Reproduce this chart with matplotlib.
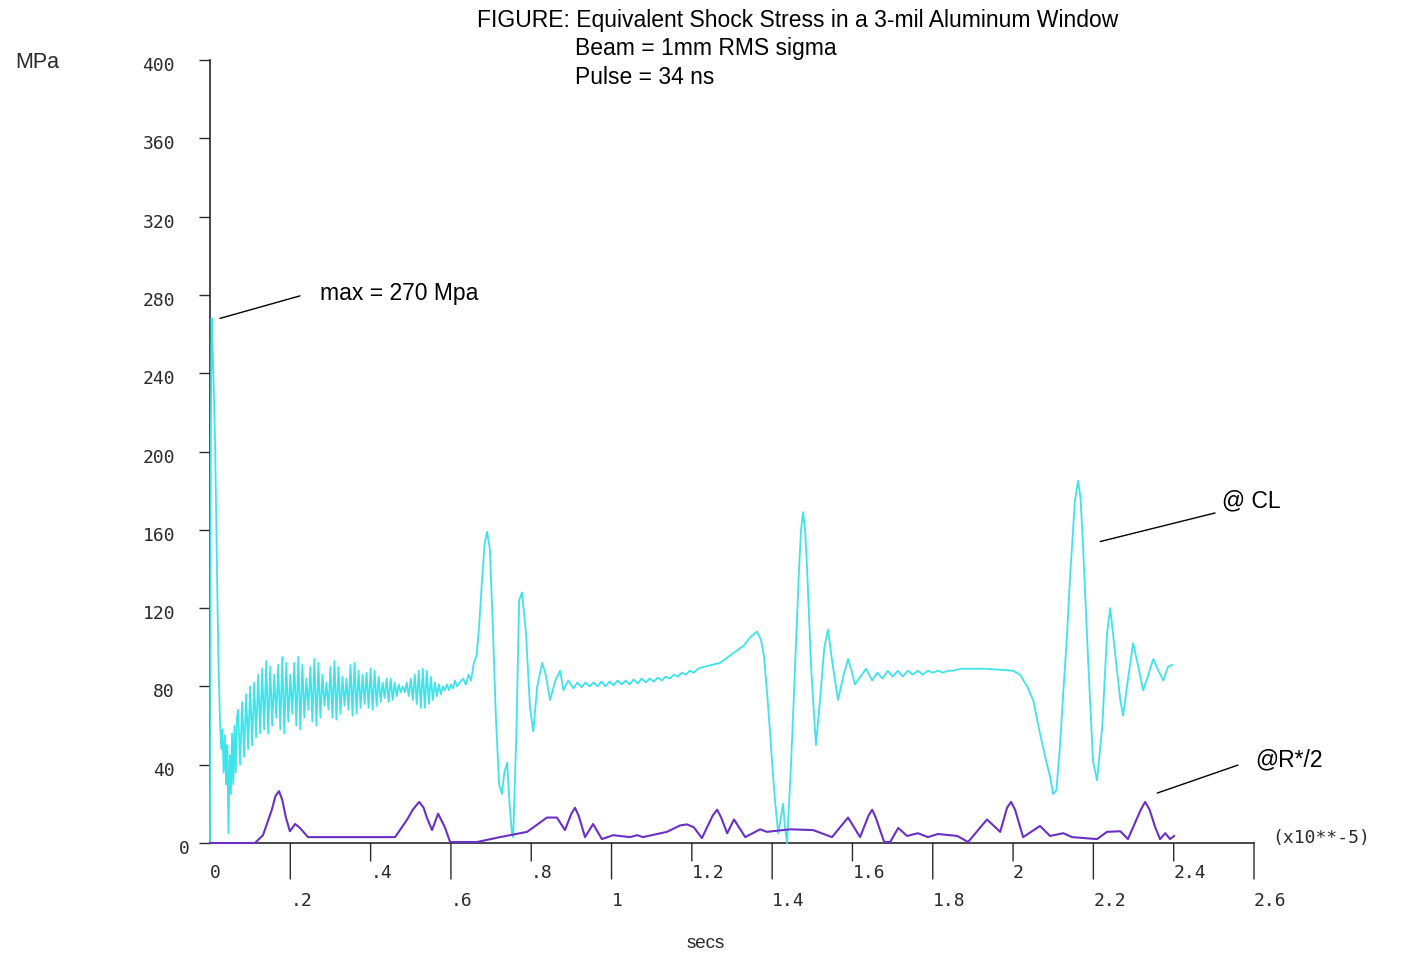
import matplotlib
matplotlib.use("Agg")
import matplotlib.pyplot as plt

# stress at the centre line (MPa) vs time (x 1e-5 s)
CL_T = [
    0.000, 0.002, 0.004, 0.007, 0.010, 0.013, 0.016, 0.019, 0.022, 0.025,
    0.028, 0.031, 0.034, 0.037, 0.040, 0.043, 0.046, 0.049, 0.052, 0.055,
    0.058, 0.061, 0.064, 0.067,
    0.070, 0.075, 0.080, 0.085, 0.090, 0.095, 0.100, 0.105, 0.110, 0.115,
    0.120, 0.125, 0.130, 0.135, 0.140, 0.145, 0.150, 0.155, 0.160, 0.165,
    0.170, 0.175, 0.180, 0.185, 0.190, 0.195, 0.200, 0.205, 0.210, 0.215,
    0.220, 0.225, 0.230, 0.235, 0.240, 0.245, 0.250, 0.255, 0.260, 0.265,
    0.270, 0.275, 0.280, 0.285, 0.290, 0.295, 0.300, 0.305, 0.310, 0.315,
    0.320, 0.325, 0.330, 0.335, 0.340, 0.345, 0.350, 0.355, 0.360, 0.365,
    0.370, 0.375, 0.380, 0.385, 0.390, 0.395, 0.400, 0.405, 0.410, 0.415,
    0.420, 0.425, 0.430, 0.435, 0.440, 0.445, 0.450, 0.455, 0.460, 0.465,
    0.470, 0.475, 0.480, 0.485, 0.490, 0.495, 0.500, 0.505, 0.510, 0.515,
    0.520, 0.525, 0.530, 0.535, 0.540, 0.545, 0.550, 0.555, 0.560, 0.565,
    0.570, 0.575, 0.580, 0.585, 0.590, 0.595, 0.600, 0.605, 0.610, 0.615,
    0.622, 0.630, 0.637, 0.644, 0.650, 0.657, 0.664, 0.670, 0.677, 0.684,
    0.690, 0.697, 0.705, 0.712, 0.720, 0.727, 0.733, 0.740, 0.746, 0.752,
    0.755, 0.763, 0.770, 0.777, 0.787, 0.797, 0.805, 0.815, 0.827, 0.835,
    0.847, 0.860, 0.872, 0.880, 0.892,
    0.905, 0.915, 0.925, 0.935, 0.945, 0.955, 0.965, 0.975, 0.985, 0.995,
    1.005, 1.015, 1.025, 1.035, 1.045, 1.055, 1.065, 1.075, 1.085, 1.095,
    1.105, 1.115, 1.125, 1.135, 1.145, 1.155, 1.165, 1.175, 1.185, 1.195,
    1.205, 1.215, 1.230, 1.250, 1.270, 1.290, 1.310, 1.330, 1.345, 1.362,
    1.372, 1.380, 1.388, 1.395, 1.402, 1.407, 1.415, 1.421, 1.427, 1.432,
    1.437, 1.447, 1.457, 1.467, 1.472, 1.477, 1.482, 1.487, 1.497, 1.509,
    1.520, 1.530, 1.539, 1.550, 1.564, 1.577, 1.589, 1.598, 1.606, 1.620,
    1.634, 1.649,
    1.662, 1.675, 1.688, 1.700, 1.713, 1.725, 1.738, 1.750, 1.763, 1.775,
    1.788, 1.800, 1.813, 1.825, 1.838, 1.850, 1.870, 1.900, 1.930, 1.968,
    2.000, 2.017, 2.035, 2.050, 2.067, 2.080, 2.092, 2.100, 2.108, 2.117,
    2.125, 2.134, 2.142, 2.154, 2.162, 2.168, 2.174, 2.187, 2.199, 2.209,
    2.222, 2.234, 2.242, 2.254, 2.267, 2.274, 2.287, 2.299, 2.312, 2.324,
    2.337, 2.349, 2.362, 2.374, 2.386, 2.396,
]
CL_V = [
    0, 205, 268, 250, 228, 200, 160, 118, 85, 62,
    48, 58, 36, 55, 30, 50, 5, 45, 25, 56,
    30, 60, 36, 64,
    68, 40, 72, 44, 76, 48, 80, 50, 82, 54,
    86, 56, 89, 58, 93, 56, 90, 60, 86, 64,
    91, 58, 95, 56, 92, 62, 86, 66, 92, 60,
    95, 58, 91, 64, 84, 68, 90, 62, 94, 60,
    92, 64, 86, 70, 82, 68, 90, 64, 93, 63,
    90, 66, 85, 70, 84, 68, 91, 65, 92, 66,
    88, 69, 86, 71, 87, 69, 89, 68, 88, 70,
    85, 72, 82, 74, 84, 72, 84, 73, 82, 75,
    81, 77, 80, 77, 82, 75, 84, 73, 86, 71,
    88, 69, 89, 69, 88, 71, 85, 73, 82, 75,
    81, 76, 80, 78, 81, 78, 81, 79, 83, 80,
    82, 84, 81, 86, 83, 92, 96, 110, 133, 153,
    159, 150, 107, 64, 30, 25, 36, 41, 20, 5,
    3, 56, 124, 128, 107, 69, 57, 80, 92, 87,
    73, 83, 88, 78, 83,
    79, 82, 79.5, 82, 80, 82, 80, 82.5, 80, 82.5,
    80.5, 83, 81, 83, 81, 83.5, 81.5, 84, 82, 84,
    82.5, 84.5, 83, 85, 84, 86, 85, 87, 86, 88,
    87, 89, 90, 91, 92, 95, 98, 101, 105, 108,
    104, 95, 75, 56, 35, 22, 5, 12, 20, 8,
    0, 40, 90, 140, 160, 169, 160, 140, 90, 50,
    75, 100, 109, 92, 73, 85, 94, 88, 81, 85,
    89, 83,
    87, 84, 88, 85, 88, 85, 88, 86, 88, 86,
    88, 87, 88, 87, 88, 88, 89, 89, 89, 88.5,
    88, 86, 80, 73, 56, 44, 34, 25, 27, 50,
    77, 105, 136, 175, 185, 176, 153, 93, 42, 32,
    59, 107, 120, 97, 73, 65, 85, 102, 90, 78,
    86, 94, 88, 83, 90, 91,
]

# stress at R*/2 (MPa)
R2_T = [
    0.000, 0.112, 0.132, 0.154, 0.163, 0.172, 0.180, 0.189, 0.199, 0.212, 0.224, 0.244,
    0.461, 0.491, 0.505, 0.521, 0.532, 0.540, 0.553, 0.568, 0.585, 0.598, 0.665, 0.722,
    0.790, 0.839, 0.864, 0.884, 0.900, 0.909, 0.918, 0.934, 0.954, 0.976, 1.004, 1.046,
    1.064, 1.078, 1.138, 1.171, 1.188, 1.205, 1.225, 1.252, 1.263, 1.273, 1.288, 1.305,
    1.333, 1.370, 1.387, 1.445, 1.502, 1.549, 1.589, 1.619, 1.640, 1.649, 1.658, 1.679,
    1.694, 1.714, 1.736, 1.763, 1.788, 1.813, 1.861, 1.888, 1.935, 1.968,
    1.985, 1.995, 2.005, 2.025, 2.067, 2.092, 2.125, 2.147, 2.209, 2.234, 2.267, 2.286,
    2.318, 2.329, 2.340, 2.354, 2.366, 2.379, 2.391, 2.401,
]
R2_V = [
    0, 0, 4, 17, 24, 26.5, 22, 13, 6, 9.7, 7.7, 3,
    3, 12, 17, 21, 18, 13, 6.6, 15, 8, 0.5, 0.5, 3,
    5.7, 13, 13, 6.6, 15, 18, 14, 3, 9.7, 2, 4, 3,
    4, 3, 5.7, 9, 9.5, 8, 2.5, 14, 17, 13, 5, 12,
    3, 7, 5.7, 7, 6.6, 3, 13, 3, 14, 17, 13, 0.5,
    0.5, 7.7, 3.6, 5, 3, 4.6, 3.6, 0.5, 12, 5.7,
    18, 21, 17, 3, 8.7, 3.6, 5, 3, 2, 5.7, 6, 2,
    17, 21, 17, 8, 2, 5, 2, 3.6,
]

Y_TICKS = [0, 40, 80, 120, 160, 200, 240, 280, 320, 360, 400]
X_TICKS = [0, 0.2, 0.4, 0.6, 0.8, 1.0, 1.2, 1.4, 1.6, 1.8, 2.0, 2.2, 2.4, 2.6]
X_LABELS = ["0", ".2", ".4", ".6", ".8", "1", "1.2", "1.4", "1.6", "1.8",
            "2", "2.2", "2.4", "2.6"]

CYAN = "#3ee4ea"
PURPLE = "#6a30c6"
INK = "#2a2a2a"
NARROW = ["Liberation Sans Narrow", "Liberation Sans", "DejaVu Sans"]
MONO = ["DejaVu Sans Mono"]

W, H = 1414, 956
fig = plt.figure(figsize=(W / 100, H / 100), dpi=100)
ax = fig.add_axes([210 / W, 1 - 843 / H, (1254 - 210) / W, (843 - 60) / H])
ax.set_xlim(0, 2.6)
ax.set_ylim(0, 400)
for s in ("top", "right"):
    ax.spines[s].set_visible(False)
for s in ("left", "bottom"):
    ax.spines[s].set_linewidth(1.2)
    ax.spines[s].set_color(INK)

ax.plot(CL_T, CL_V, color=CYAN, lw=1.3, clip_on=False, zorder=3)
ax.plot(R2_T, R2_V, color=PURPLE, lw=1.5, clip_on=False, zorder=4)

# y ticks point left, labels drawn by hand so they sit a bit low
ax.set_yticks(Y_TICKS, labels=[])
ax.tick_params(axis="y", direction="out", length=8, width=1, color=INK)
for v in Y_TICKS:
    dx = -20 if v == 0 else -35
    ax.annotate(str(v), xy=(0, v), xycoords=("axes fraction", "data"),
                xytext=(dx, -6), textcoords="offset pixels",
                ha="right", va="center", fontsize=13, family=MONO, color=INK)

# x ticks alternate short / long with labels on two rows
ax.set_xticks([])
for i, (t, lab) in enumerate(zip(X_TICKS, X_LABELS)):
    lower = i % 2 == 1
    if i > 0:
        ln = 36 if lower else 18
        ax.annotate("", xy=(t, 0), xycoords=("data", "axes fraction"),
                    xytext=(0, -ln), textcoords="offset pixels",
                    arrowprops=dict(arrowstyle="-", lw=1, color=INK,
                                    shrinkA=0, shrinkB=0))
    ax.annotate(lab, xy=(t, 0), xycoords=("data", "axes fraction"),
                xytext=(0, -58 if lower else -30), textcoords="offset pixels",
                ha="left", va="center", fontsize=13, family=MONO, color=INK)

# leader lines and notes
line_kw = dict(arrowstyle="-", lw=1, color="black", shrinkA=0, shrinkB=0)
ax.annotate("", xy=(0.025, 268), xytext=(0.224, 279.5), arrowprops=line_kw)
ax.text(0.274, 280.5, "max = 270 Mpa", fontsize=16.5, family=NARROW,
        va="center", ha="left")
ax.annotate("", xy=(2.217, 154), xytext=(2.503, 168.6), arrowprops=line_kw)
ax.text(2.52, 175, "@ CL", fontsize=16.5, family=NARROW, va="center",
        ha="left", clip_on=False)
ax.annotate("", xy=(2.359, 25.5), xytext=(2.560, 39.8), arrowprops=line_kw,
            annotation_clip=False)
ax.text(2.603, 42.4, "@R*/2", fontsize=16.5, family=NARROW, va="center",
        ha="left", clip_on=False)

fig.text(477 / W, 1 - 21 / H,
         "FIGURE: Equivalent Shock Stress in a 3-mil Aluminum Window",
         fontsize=16.5, family=NARROW, va="center", ha="left")
fig.text(575 / W, 1 - 49 / H, "Beam = 1mm RMS sigma", fontsize=16.5,
         family=NARROW, va="center", ha="left")
fig.text(575 / W, 1 - 78 / H, "Pulse = 34 ns", fontsize=16.5,
         family=NARROW, va="center", ha="left")
fig.text(15 / W, 1 - 63 / H, "MPa", fontsize=15.5, family=NARROW,
         va="center", ha="left", color=INK)
fig.text(706 / W, 1 - 943 / H, "secs", fontsize=13.5, family=NARROW,
         va="center", ha="center", color=INK)
fig.text(1272 / W, 1 - 838 / H, "(x10**-5)", fontsize=13, family=MONO,
         va="center", ha="left", color=INK)

fig.savefig("out.png", dpi=100, facecolor="white")
